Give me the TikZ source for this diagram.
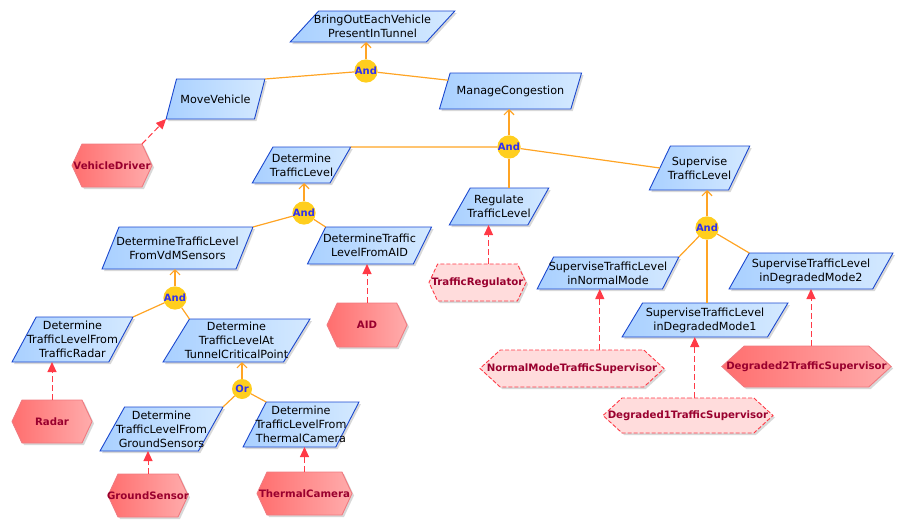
\documentclass[tikz,border=0pt]{standalone}
\usepackage{fontspec}
\setmainfont{DejaVu Sans}
\usetikzlibrary{shapes.geometric,shapes.symbols,arrows.meta,shadows,calc}

\definecolor{goalline}{HTML}{1A47CF}
\definecolor{goalleft}{HTML}{A9D0FF}
\definecolor{goalright}{HTML}{D4E9FF}
\definecolor{agentleft}{HTML}{FF6E6E}
\definecolor{agentright}{HTML}{FFACAC}
\definecolor{agentline}{HTML}{F07A80}
\definecolor{agenttext}{HTML}{99002E}
\definecolor{agentsoft}{HTML}{FFDCDC}
\definecolor{linkorange}{HTML}{FFA424}
\definecolor{depred}{HTML}{FF3A46}
\definecolor{opyellow}{HTML}{FFCE1E}
\definecolor{optext}{HTML}{3030F0}

\tikzset{
    goal/.style={trapezium, trapezium left angle=60, trapezium right angle=120,
        trapezium stretches=true, draw=goalline, line width=0.9pt,
        left color=goalleft, right color=goalright,
        inner xsep=-12pt, inner ysep=1pt, outer sep=0pt, align=center,
        font=\fontsize{11.2}{14}\selectfont,
        drop shadow={shadow xshift=2pt, shadow yshift=-2pt, fill=black!30, opacity=0.5}},
    agentbase/.style={signal, signal to=east and west, signal pointer angle=130,
        line width=0.9pt, inner xsep=-18pt, inner ysep=1pt, outer sep=0pt,
        text=agenttext, font=\fontsize{10.2}{12}\selectfont\bfseries,
        drop shadow={shadow xshift=2pt, shadow yshift=-2pt, fill=black!30, opacity=0.5}},
    agent/.style={agentbase, draw=agentline, left color=agentleft, right color=agentright},
    softagent/.style={agentbase, draw=depred, dash pattern=on 4pt off 2pt, fill=agentsoft},
    wide/.style={signal pointer angle=85},
    op/.style={circle, fill=opyellow, minimum size=20pt, inner sep=0pt, outer sep=0pt,
        text=optext, font=\fontsize{10}{10}\selectfont\bfseries},
    link/.style={draw=linkorange, line width=1.2pt},
    contrib/.style={link, -{Straight Barb[length=5pt,width=10pt]}},
    dep/.style={draw=depred, line width=1pt, dash pattern=on 6pt off 3pt,
        -{Triangle[length=10pt,width=9pt]}},
}

\begin{document}
\begin{tikzpicture}[x=1pt,y=-1pt]
    \useasboundingbox (0,0) rectangle (910,530);

    % 目标
    \node[goal, trapezium left angle=45, trapezium right angle=135, minimum width=165pt, minimum height=31pt]
        (bringout) at (372.5,26.5) {BringOutEachVehicle\\PresentInTunnel};
    \node[goal, minimum width=99pt, minimum height=40pt] (movevehicle) at (215.5,99) {MoveVehicle};
    \node[goal, minimum width=143pt, minimum height=36pt] (managecong) at (510.5,91) {ManageCongestion};
    \node[goal, minimum width=99pt, minimum height=36pt] (dettl) at (301.5,165) {Determine\\TrafficLevel};
    \node[goal, minimum width=100pt, minimum height=37pt] (regtl) at (499,206.5) {Regulate\\TrafficLevel};
    \node[goal, minimum width=101pt, minimum height=44pt] (suptl) at (699.5,168) {Supervise\\TrafficLevel};
    \node[goal, minimum width=142pt, minimum height=32pt] (supnormal) at (608,273) {SuperviseTrafficLevel\\inNormalMode};
    \node[goal, minimum width=164pt, minimum height=36pt] (supdeg2) at (811,271) {SuperviseTrafficLevel\\inDegradedMode2};
    \node[goal, minimum width=166pt, minimum height=34pt] (supdeg1) at (705,320) {SuperviseTrafficLevel\\inDegradedMode1};
    \node[goal, minimum width=151pt, minimum height=42pt] (detvdm) at (177.5,248) {DetermineTrafficLevel\\FromVdMSensors};
    \node[goal, minimum width=125pt, minimum height=37pt] (detaid) at (369.5,245.5) {DetermineTraffic\\LevelFromAID};
    \node[goal, minimum width=121pt, minimum height=45pt] (detradar) at (72.5,339.5) {Determine\\TrafficLevelFrom\\TrafficRadar};
    \node[goal, minimum width=147pt, minimum height=43pt] (detcritical) at (236.5,340.5) {Determine\\TrafficLevelAt\\TunnelCriticalPoint};
    \node[goal, minimum width=123pt, minimum height=44pt] (detground) at (161.5,429) {Determine\\TrafficLevelFrom\\GroundSensors};
    \node[goal, minimum width=116pt, minimum height=45pt] (detthermal) at (301,424.5) {Determine\\TrafficLevelFrom\\ThermalCamera};

    % 分解
    \node[op] (and1) at (366,71) {And};
    \node[op] (and2) at (509,147) {And};
    \node[op] (and3) at (304,213) {And};
    \node[op] (and4) at (175,298) {And};
    \node[op] (or1) at (242,389) {Or};
    \node[op] (and5) at (707,228) {And};

    \draw[contrib] (and1) -- (and1 |- bringout.bottom side);
    \draw[link] (movevehicle.top right corner) -- (and1)
        -- ($(managecong.top left corner)!0.2!(managecong.bottom left corner)$);
    \draw[contrib] (and2) -- (and2 |- managecong.bottom side);
    \draw[link] (dettl.top right corner) -- (and2) -- (suptl.left side);
    \draw[link] (and2 |- regtl.top side) -- (and2);
    \draw[contrib] (and3) -- (and3 |- dettl.bottom side);
    \draw[link] (detvdm.top right corner) -- (and3) -- (detaid.top left corner);
    \draw[contrib] (and4) -- (and4 |- detvdm.bottom side);
    \draw[link] (detradar.top right corner) -- (and4) -- (detcritical.top left corner);
    \draw[contrib] (or1) -- (or1 |- detcritical.bottom side);
    \draw[link] (detground.top right corner) -- (or1) -- (detthermal.top left corner);
    \draw[contrib] (and5) -- (and5 |- suptl.bottom side);
    \draw[link] (supnormal.top right corner) -- (and5) -- (supdeg2.top left corner);
    \draw[link] (and5 |- supdeg1.top side) -- (and5);

    % 代理
    \node[agent, minimum width=80pt, minimum height=43pt] (driver) at (112,165.5) {VehicleDriver};
    \node[softagent, minimum width=97pt, minimum height=37pt] (regulator) at (477.5,282.5) {TrafficRegulator};
    \node[agent, minimum width=80pt, minimum height=44pt] (aid) at (367,325) {AID};
    \node[agent, minimum width=80pt, minimum height=43pt] (radar) at (52,421.5) {Radar};
    \node[agent, minimum width=80pt, minimum height=43pt] (groundsensor) at (148,495.5) {GroundSensor};
    \node[agent, minimum width=95pt, minimum height=43pt] (thermalcam) at (304.5,493.5) {ThermalCamera};
    \node[softagent, wide, minimum width=184pt, minimum height=37pt] (normalsup) at (572,368.5) {NormalModeTrafficSupervisor};
    \node[softagent, wide, minimum width=170pt, minimum height=35pt] (deg1sup) at (688,415.5) {Degraded1TrafficSupervisor};
    \node[agent, wide, minimum width=163pt, minimum height=41pt] (deg2sup) at (806.5,366.5) {Degraded2TrafficSupervisor};

    % 依赖
    \draw[dep] (driver.north east) -- (movevehicle.bottom left corner);
    \draw[dep] (regtl.bottom side |- regulator.north) -- (regtl.bottom side);
    \draw[dep] (aid.north) -- (aid.north |- detaid.bottom side);
    \draw[dep] (radar.north) -- (radar.north |- detradar.bottom side);
    \draw[dep] (groundsensor.north) -- (groundsensor.north |- detground.bottom side);
    \draw[dep] (thermalcam.north) -- (thermalcam.north |- detthermal.bottom side);
    \draw[dep] (supnormal.bottom side |- normalsup.north) -- (supnormal.bottom side);
    \draw[dep] (supdeg1.bottom side |- deg1sup.north) -- (supdeg1.bottom side);
    \draw[dep] (supdeg2.center |- deg2sup.north) -- (supdeg2.center |- supdeg2.bottom side);
\end{tikzpicture}
\end{document}
